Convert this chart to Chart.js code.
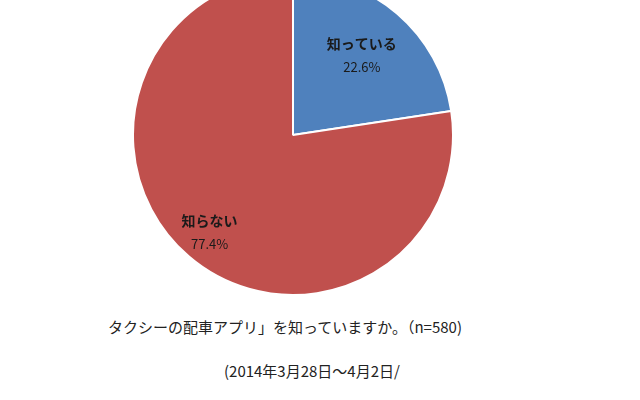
<!DOCTYPE html>
<html><head><meta charset="utf-8">
<script src="https://cdn.jsdelivr.net/npm/chart.js@4"></script>
<style>
body{margin:0;width:640px;height:400px;overflow:hidden;background:#fff;position:relative;font-family:"Noto Sans CJK JP",sans-serif}
#wrap{position:absolute;left:131px;top:-27px;width:324px;height:324px}
.t{position:absolute;color:#222;font-size:15px;white-space:nowrap}
</style></head><body>
<div id="wrap"><canvas id="c" width="324" height="324"></canvas></div>
<div class="t" style="left:108px;top:316px">タクシーの配車アプリ」を知っていますか。（n=580)</div>
<div class="t" style="left:224px;top:360px">(2014年3月28日～4月2日/</div>
<script>
const labels = ['知っている', '知らない'];
const values = [22.6, 77.4];
const colors = ['#4F81BD', '#C0504D'];
const labelRadius = [0.66, 0.8];

const sliceLabels = {
  id: 'sliceLabels',
  afterDatasetsDraw(chart) {
    const ctx = chart.ctx;
    chart.getDatasetMeta(0).data.forEach((arc, i) => {
      const mid = (arc.startAngle + arc.endAngle) / 2;
      const r = arc.outerRadius * labelRadius[i];
      const x = arc.x + Math.cos(mid) * r;
      const y = arc.y + Math.sin(mid) * r;
      ctx.save();
      ctx.fillStyle = '#1a1a1a';
      ctx.textAlign = 'center';
      ctx.textBaseline = 'middle';
      ctx.font = "bold 14px 'Noto Sans CJK JP'";
      ctx.fillText(labels[i], x, y - 11);
      ctx.font = "13px 'Noto Sans CJK JP'";
      ctx.fillText(values[i].toFixed(1) + '%', x, y + 12);
      ctx.restore();
    });
  },
};

new Chart(document.getElementById('c'), {
  type: 'pie',
  data: { labels, datasets: [{ data: values, backgroundColor: colors, borderColor: '#fff', borderWidth: 2 }] },
  options: {
    responsive: false,
    animation: false,
    layout: { padding: 1 },
    plugins: { legend: { display: false }, tooltip: { enabled: false } },
  },
  plugins: [sliceLabels],
});
</script>
</body></html>
